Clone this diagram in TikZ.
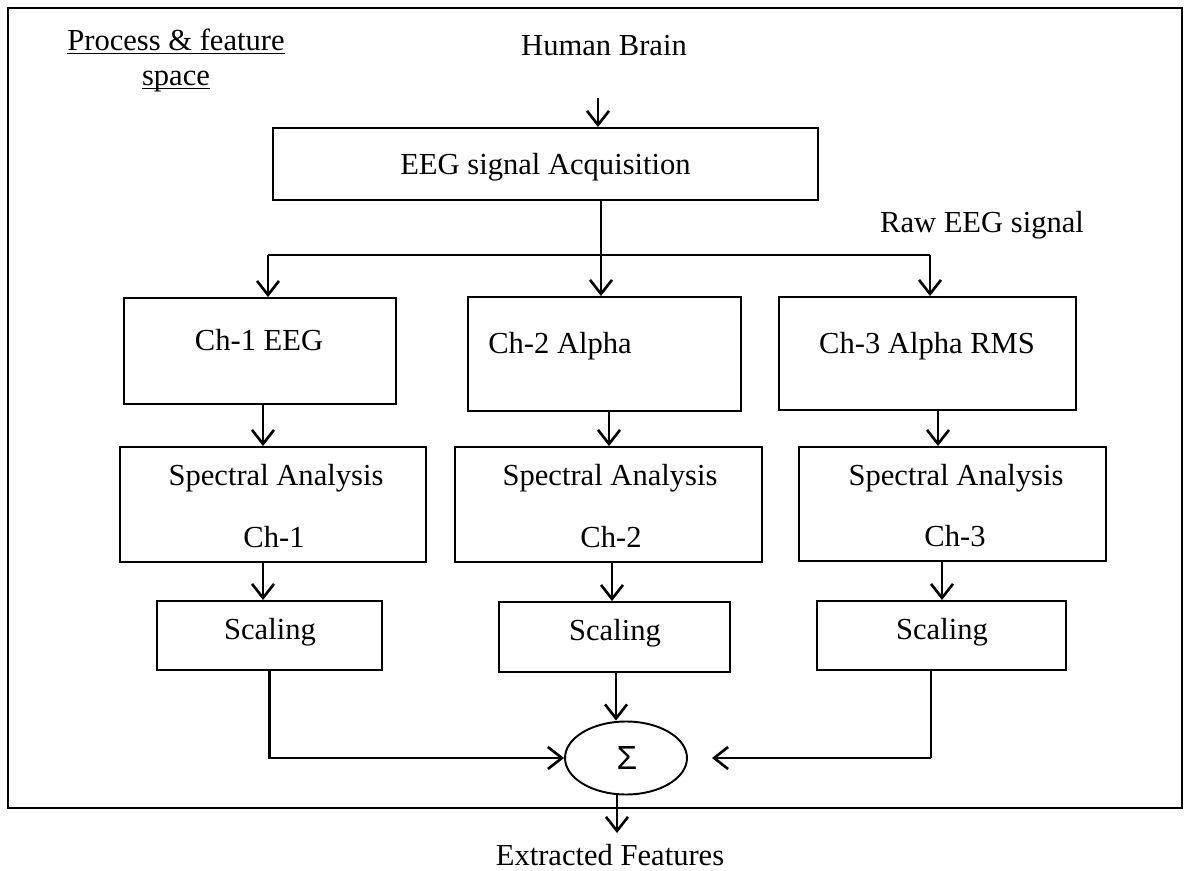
\documentclass[tikz,border=0pt]{standalone}
\usepackage{fontspec}
\setmainfont{Liberation Serif}
\newfontfamily\sigmafont{Liberation Sans}
\usetikzlibrary{arrows.meta,shapes.geometric}

\tikzset{
  x=0.02cm, y=-0.02cm,
  lbl/.style={font=\fontsize{17.4}{21}\selectfont, text depth=0pt, inner sep=0pt},
  box/.style={draw, line width=1.1pt, inner sep=0pt, text depth=0pt,
              font=\fontsize{17.4}{21}\selectfont},
  arr/.style={-{Straight Barb[length=0.28cm,width=0.44cm,line width=1.5pt]}, line width=1.5pt},
  wire/.style={line width=1.3pt},
}

\begin{document}
\begin{tikzpicture}
  % page and outer frame
  \fill[white] (0,0) rectangle (1186,871);
  \useasboundingbox (0,0) rectangle (1186,871);
  \draw[line width=1.1pt] (8,8) rectangle (1182,808);

  % heading
  \node[lbl, anchor=base] (title1) at (176,51) {\underline{\smash{Process \& feature}}};
  \node[lbl, anchor=base] (title2) at (176,86) {\underline{\smash{space}}};

  % source and acquisition
  \node[lbl] (brain) at (604,45) {Human Brain};
  \node[box, minimum width=10.92cm, minimum height=1.44cm] (acq) at (545.5,164) {EEG signal Acquisition};
  \node[lbl] (raw) at (982,222) {Raw EEG signal};

  % channel boxes
  \node[box, minimum width=5.44cm, minimum height=2.12cm] (ch1) at (260,351) {};
  \node[lbl] (ch1t) at (259,340) {Ch-1 EEG};
  \node[box, minimum width=5.46cm, minimum height=2.28cm] (ch2) at (604.5,354) {};
  \node[lbl] (ch2t) at (560,343) {Ch-2 Alpha};
  \node[box, minimum width=5.94cm, minimum height=2.26cm] (ch3) at (927.5,353.5) {};
  \node[lbl] (ch3t) at (927,343) {Ch-3 Alpha RMS};

  % spectral analysis boxes
  \node[box, minimum width=6.12cm, minimum height=2.30cm] (sp1) at (273,504.5) {};
  \node[lbl] (sp1a) at (276,475) {Spectral Analysis};
  \node[lbl] (sp1b) at (274,537) {Ch-1};
  \node[box, minimum width=6.14cm, minimum height=2.30cm] (sp2) at (608.5,504.5) {};
  \node[lbl] (sp2a) at (610,475) {Spectral Analysis};
  \node[lbl] (sp2b) at (611,537) {Ch-2};
  \node[box, minimum width=6.14cm, minimum height=2.28cm] (sp3) at (952.5,504) {};
  \node[lbl] (sp3a) at (956,475) {Spectral Analysis};
  \node[lbl] (sp3b) at (955,536) {Ch-3};

  % scaling boxes
  \node[box, minimum width=4.50cm, minimum height=1.38cm] (sc1) at (269.5,635.5) {};
  \node[lbl] (sc1t) at (270,629) {Scaling};
  \node[box, minimum width=4.62cm, minimum height=1.40cm] (sc2) at (614.5,637) {};
  \node[lbl] (sc2t) at (615,630) {Scaling};
  \node[box, minimum width=4.98cm, minimum height=1.38cm] (sc3) at (941.5,635.5) {};
  \node[lbl] (sc3t) at (942,629) {Scaling};

  % summing junction and output
  \node[draw, ellipse, line width=1.1pt, minimum width=2.44cm, minimum height=1.46cm, inner sep=0pt] (sum) at (626,758) {};
  \node[inner sep=0pt, font=\sigmafont\fontsize{19}{21}\selectfont] (sigma) at (627,758) {Σ};
  \node[lbl] (out) at (610,855) {Extracted Features};

  % connectors
  \coordinate (brainout) at (598,98);
  \draw[arr] (brainout) -- (brainout |- acq.north);

  \coordinate (split) at (601,255);
  \coordinate (b1) at (268,255);
  \coordinate (b3) at (930,255);
  \draw[line width=0.8pt] (acq.south -| split) -- (split);
  \draw[wire] (b1) -- (b3);
  \draw[arr] (b1) -- (b1 |- ch1.north);
  \draw[arr] (split) -- (split |- ch2.north);
  \draw[arr] (b3) -- (b3 |- ch3.north);

  \draw[arr] ([xshift=0.06cm]ch1.south) -- ([xshift=0.06cm]ch1.south |- sp1.north);
  \draw[arr] ([xshift=0.09cm]ch2.south) -- ([xshift=0.09cm]ch2.south |- sp2.north);
  \draw[arr] ([xshift=0.21cm]ch3.south) -- ([xshift=0.21cm]ch3.south |- sp3.north);

  \draw[arr] ([xshift=-0.20cm]sp1.south) -- ([xshift=-0.20cm]sp1.south |- sc1.north);
  \draw[arr] ([xshift=0.07cm]sp2.south) -- ([xshift=0.07cm]sp2.south |- sc2.north);
  \draw[arr] ([xshift=-0.21cm]sp3.south) -- ([xshift=-0.21cm]sp3.south |- sc3.north);

  \draw[arr] (sc1.south) |- (sum.west);
  \draw[arr] ([xshift=0.03cm]sc2.south) -- ([xshift=0.03cm]sc2.south |- sum.north);
  \draw[wire] ([xshift=-0.21cm]sc3.south) -- ([xshift=-0.21cm]sc3.south |- sum.east);
  \draw[arr, shorten >=0.48cm] ([xshift=-0.21cm]sc3.south |- sum.east) -- (sum.east);

  \coordinate (outtip) at (617,833);
  \draw[arr] (sum.south -| outtip) -- (outtip);
\end{tikzpicture}
\end{document}
